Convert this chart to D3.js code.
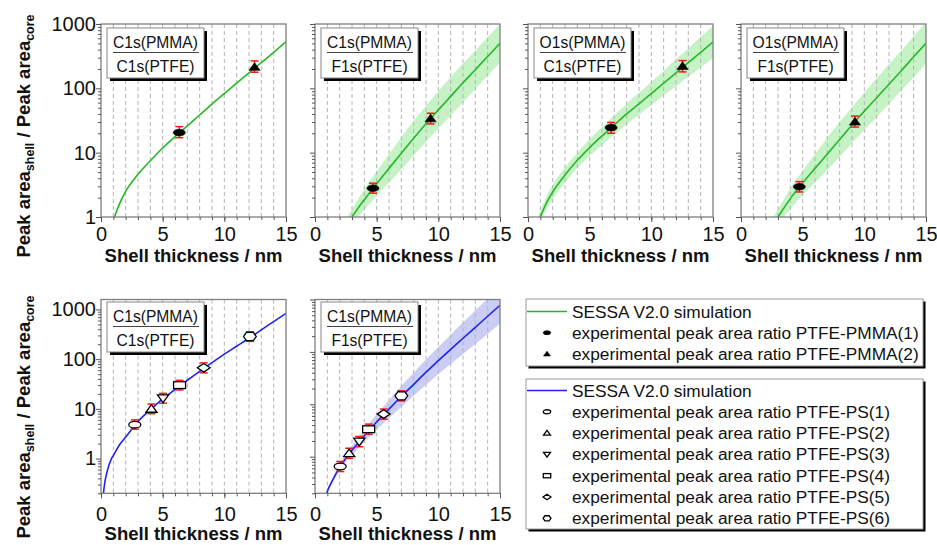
<!DOCTYPE html>
<html><head><meta charset="utf-8">
<script src="https://cdn.jsdelivr.net/npm/d3@7/dist/d3.min.js"></script>
<style>
body{margin:0;background:#fff;}
svg{font-family:"Liberation Sans",Arial,sans-serif;}
</style></head><body>
<svg id="chart" width="937" height="545"></svg>
<script>
// ---------------- DATA ----------------
const xTicks = [0, 5, 10, 15];
const yTickLabels = [1, 10, 100, 1000];
const gridX = [1,2,3,4,5,6,7,8,9,10,11,12,13,14];

// panel labels (numerator / denominator)
const labelNum = ["C1s(PMMA)", "C1s(PMMA)", "O1s(PMMA)", "O1s(PMMA)", "C1s(PMMA)", "C1s(PMMA)"];
const labelDen = ["C1s(PTFE)", "F1s(PTFE)", "C1s(PTFE)", "F1s(PTFE)", "C1s(PTFE)", "F1s(PTFE)"];

// SESSA simulation, PTFE-PMMA, C1s/C1s
const simA_x = [0.8, 1.1, 1.5, 2, 3, 4, 5, 6, 7, 8, 9, 10, 11, 12, 13, 14, 15];
const simA_y = [0.62, 1, 1.6, 2.5, 4.6, 7.5, 11.8, 17.8, 26, 38.5, 57, 83, 120, 174, 250, 362, 530];

// PTFE-PMMA, C1s/F1s
const simB_x  = [2.5, 3, 3.5, 4, 5, 6, 7, 8, 9, 10, 11, 12, 13, 14, 15];
const simB_y  = [0.72, 1, 1.38, 1.86, 3.3, 5.7, 9.8, 16.8, 28.2, 46.2, 75, 122, 195, 313, 500];
const simB_lo = [0.58, 0.76, 1.0, 1.29, 2.14, 3.43, 5.5, 9.0, 14.8, 23.7, 37.6, 61, 98, 157, 251];
const simB_hi = [0.91, 1.32, 1.91, 2.69, 5.13, 9.44, 17.4, 31.3, 53.7, 90.2, 150, 243, 389, 624, 1000];

// PTFE-PMMA, O1s/C1s
const simC_x  = [0.7, 1, 1.5, 2, 3, 4, 5, 6, 7, 8, 9, 10, 11, 12, 13, 14, 15];
const simC_y  = [0.7, 1, 1.66, 2.45, 4.5, 7.6, 12, 18.2, 27, 40, 57.5, 83, 120, 174, 251, 363, 525];
const simC_lo = [0.58, 0.81, 1.32, 1.91, 3.41, 5.77, 8.89, 13.2, 19.1, 27.7, 38.9, 54.8, 77.4, 107, 151, 209, 295];
const simC_hi = [0.84, 1.23, 2.09, 3.16, 5.93, 10.0, 16.2, 25.1, 38.1, 57.8, 85.1, 126, 186, 282, 417, 631, 933];

// PTFE-PMMA, O1s/F1s
const simD_x  = [2.5, 3, 3.5, 4, 5, 6, 7, 8, 9, 10, 11, 12, 13, 14, 15];
const simD_y  = [0.72, 1, 1.4, 1.93, 3.39, 5.7, 9.55, 16, 26.9, 44.2, 71.6, 116, 188, 309, 500];
const simD_lo = [0.58, 0.76, 1.01, 1.33, 2.19, 3.43, 5.37, 8.61, 14.1, 22.6, 35.9, 56.9, 92.3, 148, 240];
const simD_hi = [0.91, 1.32, 1.93, 2.79, 5.25, 9.44, 17.0, 29.9, 51.3, 86.1, 143, 237, 385, 646, 1047];

// PTFE-PS, C1s/C1s
const simE_x = [0.1, 0.2, 0.3, 0.5, 0.85, 1, 1.5, 2, 3, 4, 5, 6, 7, 8, 9, 10, 11, 12, 13, 14, 15];
const simE_y = [0.1, 0.2, 0.32, 0.55, 1, 1.15, 1.9, 2.7, 5.6, 9.5, 15.8, 24.5, 37.6, 57, 85, 126, 182, 263, 389, 569, 832];

// PTFE-PS, C1s/F1s
const simF_x  = [0.8, 0.95, 1.5, 2, 2.5, 3, 4, 5, 6, 7, 8, 9, 10, 11, 12, 13, 14, 15];
const simF_y  = [0.15, 0.2, 0.38, 0.63, 0.93, 1.32, 2.5, 4.6, 8.1, 14.1, 24, 41, 68, 112, 182, 295, 479, 776];
const simF_lo = [0.143, 0.187, 0.347, 0.55, 0.79, 1.07, 1.90, 3.26, 5.47, 8.89, 14.5, 23.6, 37.4, 58.7, 91.2, 141, 219, 347];
const simF_hi = [0.157, 0.214, 0.417, 0.724, 1.09, 1.63, 3.30, 6.50, 12.0, 22.3, 39.8, 71.3, 124, 213, 363, 617, 1047, 1738];

// experimental PTFE-PMMA(1) and (2), one value per top panel A..D
const pmma1_x  = [6.35, 4.7, 6.74, 4.73];
const pmma1_y  = [20.5, 2.8, 24.5, 2.95];
const pmma1_lo = [17.1, 2.35, 20, 2.45];
const pmma1_hi = [25.4, 3.35, 29.5, 3.55];
const pmma2_x  = [12.45, 9.37, 12.53, 9.24];
const pmma2_y  = [215, 34, 222, 30.3];
const pmma2_lo = [178, 28, 180, 25];
const pmma2_hi = [267, 41, 270, 37];

// experimental PTFE-PS(1..6)
const psE_x  = [2.74, 4.09, 5.03, 6.37, 8.33, 12.07];
const psE_y  = [4.8, 10, 16.3, 30, 67, 285];
const psE_lo = [3.9, 8.0, 13, 24, 53, 228];
const psE_hi = [6.0, 12.5, 20.5, 37.5, 84, 356];
const psF_x  = [2.04, 2.77, 3.59, 4.35, 5.57, 7.0];
const psF_y  = [0.65, 1.16, 1.94, 3.34, 6.5, 14.5];
const psF_lo = [0.52, 0.93, 1.55, 2.67, 5.2, 11.6];
const psF_hi = [0.81, 1.45, 2.43, 4.18, 8.1, 18.1];

const legend1 = ["SESSA V2.0 simulation",
  "experimental peak area ratio PTFE-PMMA(1)",
  "experimental peak area ratio PTFE-PMMA(2)"];
const legend2 = ["SESSA V2.0 simulation",
  "experimental peak area ratio PTFE-PS(1)",
  "experimental peak area ratio PTFE-PS(2)",
  "experimental peak area ratio PTFE-PS(3)",
  "experimental peak area ratio PTFE-PS(4)",
  "experimental peak area ratio PTFE-PS(5)",
  "experimental peak area ratio PTFE-PS(6)"];

const xTitle = "Shell thickness / nm";

// ---------------- STYLE ----------------
const GREEN = "#25b825", GREEN_BAND = "#c6f3c6";
const BLUE = "#1f22f0", BLUE_BAND = "#cacdf6";
const RED = "#f01c1c";
const FRAME = "#7f7f7f";
const W = 185;
const psShapes = ["ellipseO", "triUpO", "triDownO", "rectO", "diamondO", "hexO"];

const pmmaPts = i => [
  {x: pmma1_x[i], y: pmma1_y[i], lo: pmma1_lo[i], hi: pmma1_hi[i], shape: "ellipseF"},
  {x: pmma2_x[i], y: pmma2_y[i], lo: pmma2_lo[i], hi: pmma2_hi[i], shape: "triF"}];
const psPts = (xs, ys, los, his) => xs.map((v, k) => ({x: v, y: ys[k], lo: los[k], hi: his[k], shape: psShapes[k]}));

const topRow = {top: 24, bottom: 217, labPad: 4.3, titleOff: 44.5, ytc: 136};
const botRow = {top: 299.5, bottom: 493.3, labPad: 8.5, titleOff: 47, ytc: 417};

const panels = [
  {row: topRow, left: 101, dom: [1, 1000], sx: simA_x, sy: simA_y, lo: null, hi: null, c: GREEN, band: GREEN_BAND, pts: pmmaPts(0)},
  {row: topRow, left: 315, dom: [1, 1000], sx: simB_x, sy: simB_y, lo: simB_lo, hi: simB_hi, c: GREEN, band: GREEN_BAND, pts: pmmaPts(1)},
  {row: topRow, left: 528, dom: [1, 1000], sx: simC_x, sy: simC_y, lo: simC_lo, hi: simC_hi, c: GREEN, band: GREEN_BAND, pts: pmmaPts(2)},
  {row: topRow, left: 741, dom: [1, 1000], sx: simD_x, sy: simD_y, lo: simD_lo, hi: simD_hi, c: GREEN, band: GREEN_BAND, pts: pmmaPts(3)},
  {row: botRow, left: 101, dom: [0.2, 1585], sx: simE_x, sy: simE_y, lo: null, hi: null, c: BLUE, band: BLUE_BAND, pts: psPts(psE_x, psE_y, psE_lo, psE_hi)},
  {row: botRow, left: 315, dom: [0.2, 1000], sx: simF_x, sy: simF_y, lo: simF_lo, hi: simF_hi, c: BLUE, band: BLUE_BAND, pts: psPts(psF_x, psF_y, psF_lo, psF_hi)},
];

const svg = d3.select("#chart");
const defs = svg.append("defs");

function marker(sel, shape, cx, cy, s) {
  const filled = shape.endsWith("F");
  const g = sel.append("g").attr("transform", `translate(${cx},${cy}) scale(${s})`);
  let el;
  if (shape.startsWith("ellipse")) el = g.append("ellipse").attr("rx", 6).attr("ry", 3.3);
  else if (shape === "triF" || shape === "triUpO") el = g.append("path").attr("d", "M0,-4.3L5.6,3.4L-5.6,3.4Z");
  else if (shape === "triDownO") el = g.append("path").attr("d", "M0,4.3L5.6,-3.4L-5.6,-3.4Z");
  else if (shape === "rectO") el = g.append("rect").attr("x", -6).attr("y", -3.4).attr("width", 12).attr("height", 6.8);
  else if (shape === "diamondO") el = g.append("path").attr("d", "M0,-4.3L6.4,0L0,4.3L-6.4,0Z");
  else el = g.append("path").attr("d", "M-6.4,0L-3.4,-4.1L3.4,-4.1L6.4,0L3.4,4.1L-3.4,4.1Z");
  el.attr("fill", filled ? "#000" : "#fff").attr("stroke", "#000").attr("stroke-width", (filled ? 0.6 : 1.3) / s);
}

panels.forEach((p, i) => {
  const top = p.row.top, bottom = p.row.bottom;
  const x = d3.scaleLinear().domain([0, 15]).range([p.left, p.left + W]);
  const y = d3.scaleLog().domain(p.dom).range([bottom, top]);
  const g = svg.append("g");
  defs.append("clipPath").attr("id", "clip" + i).append("rect")
    .attr("x", p.left).attr("y", top).attr("width", W).attr("height", bottom - top);
  const inner = g.append("g").attr("clip-path", `url(#clip${i})`);

  if (p.lo) {
    const bd = p.sx.map((v, k) => [v, p.lo[k], p.hi[k]]);
    inner.append("path").datum(bd)
      .attr("d", d3.area().x(d => x(d[0])).y0(d => y(d[1])).y1(d => y(d[2])).curve(d3.curveMonotoneX))
      .attr("fill", p.band);
  }
  inner.selectAll("line.grid").data(gridX).join("line").attr("class", "grid")
    .attr("x1", d => x(d)).attr("x2", d => x(d)).attr("y1", top).attr("y2", bottom)
    .attr("stroke", "#b4b4b4").attr("stroke-width", 1).attr("stroke-dasharray", "4,3");
  const cd = p.sx.map((v, k) => [v, p.sy[k]]);
  inner.append("path").datum(cd)
    .attr("d", d3.line().x(d => x(d[0])).y(d => y(d[1])).curve(d3.curveMonotoneX))
    .attr("fill", "none").attr("stroke", p.c).attr("stroke-width", 1.6);

  // error bars + markers
  p.pts.forEach(pt => {
    const cx = x(pt.x);
    g.append("line").attr("x1", cx).attr("x2", cx).attr("y1", y(pt.lo)).attr("y2", y(pt.hi))
      .attr("stroke", RED).attr("stroke-width", 1.5);
    [pt.lo, pt.hi].forEach(v => g.append("line").attr("x1", cx - 4).attr("x2", cx + 4)
      .attr("y1", y(v)).attr("y2", y(v)).attr("stroke", RED).attr("stroke-width", 1.5));
    marker(g, pt.shape, cx, y(pt.y), 1);
  });

  // frame
  g.append("rect").attr("x", p.left).attr("y", top).attr("width", W).attr("height", bottom - top)
    .attr("fill", "none").attr("stroke", FRAME).attr("stroke-width", 1.3);

  // axes
  const styleAx = a => { a.select(".domain").remove(); a.selectAll(".tick line").attr("stroke", "#555");
    a.selectAll("text").attr("fill", "#111").style("font-size", "20px").style("font-family", '"Liberation Sans",Arial,sans-serif'); };
  g.append("g").attr("transform", `translate(0,${bottom})`)
    .call(d3.axisBottom(x).tickValues(d3.range(0, 16)).tickSize(3).tickFormat("")).call(styleAx);
  g.append("g").attr("transform", `translate(0,${bottom})`)
    .call(d3.axisBottom(x).tickValues(xTicks).tickSize(5).tickPadding(p.row.labPad).tickFormat(d3.format("d"))).call(styleAx);
  const minors = y.ticks().filter(v => !yTickLabels.includes(v));
  g.append("g").attr("transform", `translate(${p.left},0)`)
    .call(d3.axisLeft(y).tickValues(minors).tickSize(3).tickFormat("")).call(styleAx);
  g.append("g").attr("transform", `translate(${p.left},0)`)
    .call(d3.axisLeft(y).tickValues(yTickLabels).tickSize(5).tickPadding(0)
      .tickFormat(p.left === 101 ? d3.format("d") : () => "")).call(styleAx);

  // x title
  g.append("text").attr("x", p.left + W / 2).attr("y", bottom + p.row.titleOff)
    .attr("text-anchor", "middle").style("font-weight", "bold").style("font-size", "18.5px")
    .attr("fill", "#111").text(xTitle);

  // y title (first column)
  if (p.left === 101) {
    const t = g.append("text").attr("transform", `translate(30,${p.row.ytc}) rotate(-90)`)
      .attr("text-anchor", "middle").style("font-weight", "bold").style("font-size", "18.5px").attr("fill", "#111");
    t.append("tspan").text("Peak area");
    t.append("tspan").attr("dy", 4).style("font-size", "12.5px").text("shell");
    t.append("tspan").attr("dy", -4).text(" / Peak area");
    t.append("tspan").attr("dy", 4).style("font-size", "12.5px").text("core");
  }

  // label box
  const bx = p.left + 6, by = top + (p.row === topRow ? 4 : 2.5), bw = 97, bh = 50;
  g.append("rect").attr("x", bx + 3).attr("y", by + 3).attr("width", bw).attr("height", bh).attr("fill", "#000");
  g.append("rect").attr("x", bx).attr("y", by).attr("width", bw).attr("height", bh)
    .attr("fill", "#fff").attr("stroke", "#888").attr("stroke-width", 1);
  g.append("text").attr("x", bx + bw / 2).attr("y", by + 20).attr("text-anchor", "middle")
    .style("font-size", "15.6px").attr("fill", "#111").text(labelNum[i]);
  g.append("line").attr("x1", bx + 6).attr("x2", bx + bw - 5).attr("y1", by + 24.5).attr("y2", by + 24.5)
    .attr("stroke", "#444").attr("stroke-width", 1);
  g.append("text").attr("x", bx + bw / 2).attr("y", by + 43.5).attr("text-anchor", "middle")
    .style("font-size", "15.6px").attr("fill", "#111").text(labelDen[i]);
});

// ---------------- LEGENDS ----------------
const legends = [
  {x: 526, y: 299, w: 397, h: 67, color: GREEN, entries: legend1, shapes: ["line", "ellipseF", "triF"], base: 317.5, step: 21.2},
  {x: 526, y: 379, w: 397, h: 150, color: BLUE, entries: legend2, shapes: ["line"].concat(psShapes), base: 396.5, step: 21.3},
];
legends.forEach(L => {
  const g = svg.append("g");
  g.append("rect").attr("x", L.x + 2.5).attr("y", L.y + 2.5).attr("width", L.w).attr("height", L.h).attr("fill", "#000");
  g.append("rect").attr("x", L.x).attr("y", L.y).attr("width", L.w).attr("height", L.h)
    .attr("fill", "#fff").attr("stroke", "#999").attr("stroke-width", 1);
  L.entries.forEach((txt, k) => {
    const by = L.base + k * L.step, my = by - 6;
    const sh = L.shapes[k];
    if (sh === "line") g.append("line").attr("x1", L.x + 1).attr("x2", L.x + 41).attr("y1", my).attr("y2", my)
      .attr("stroke", L.color).attr("stroke-width", 1.6);
    else marker(g, sh, L.x + 21, my, 0.62);
    g.append("text").attr("x", L.x + 46).attr("y", by).style("font-size", "17.3px").attr("fill", "#111").text(txt);
  });
});
</script>
</body></html>
